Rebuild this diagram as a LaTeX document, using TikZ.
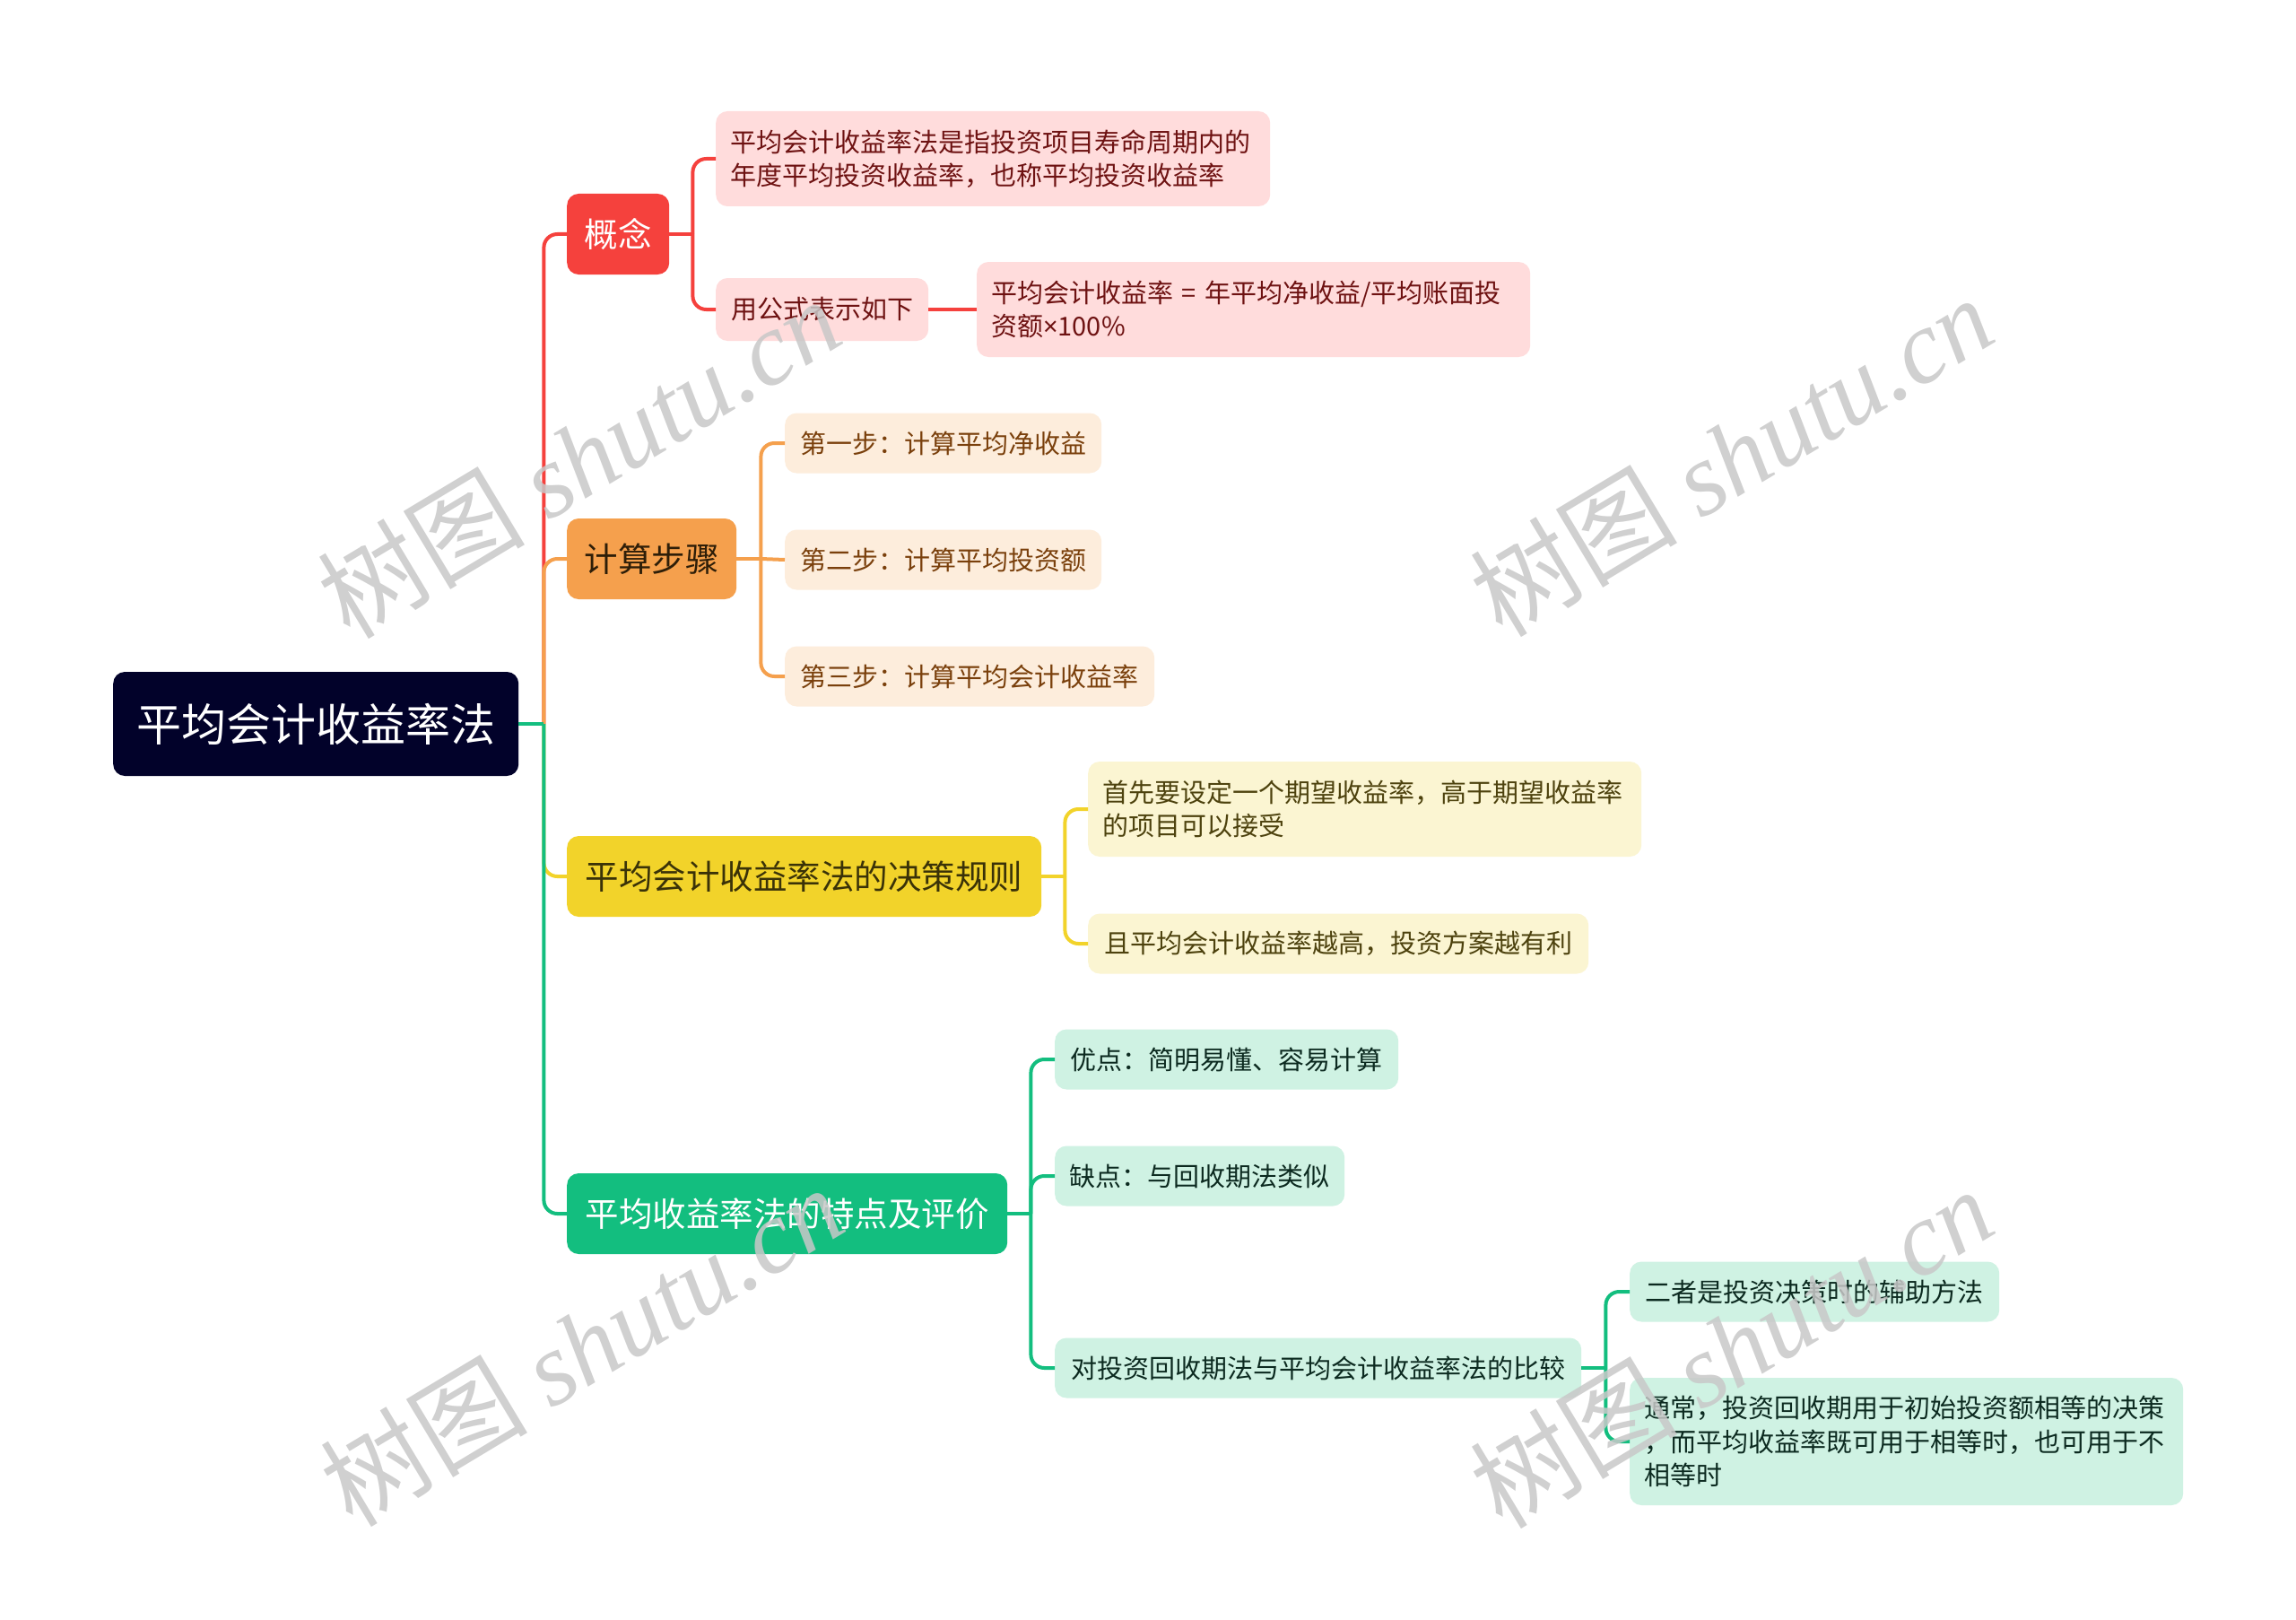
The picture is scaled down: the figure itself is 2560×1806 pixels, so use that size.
\documentclass[tikz,border=0pt]{standalone}
\usepackage{fontspec}
\setmainfont{Noto Sans CJK SC}
\newfontfamily\wmcjk{Noto Sans CJK SC}
\newfontfamily\wmlat{Liberation Serif}
\newfontfamily\narrowlat{Noto Sans}
\usetikzlibrary{calc}

\definecolor{rootc}{HTML}{02022A}
\definecolor{redc}{HTML}{F5413D}
\definecolor{redl}{HTML}{FFDCDC}
\definecolor{redt}{HTML}{6E1212}
\definecolor{orac}{HTML}{F5A04D}
\definecolor{oral}{HTML}{FDEDDC}
\definecolor{orat}{HTML}{7A400C}
\definecolor{orad}{HTML}{2E1E08}
\definecolor{yelc}{HTML}{F2D32A}
\definecolor{yell}{HTML}{FBF5D2}
\definecolor{yelt}{HTML}{4D420E}
\definecolor{yeld}{HTML}{3A3208}
\definecolor{grec}{HTML}{13BE7F}
\definecolor{grel}{HTML}{CFF2E3}
\definecolor{gret}{HTML}{0C2A20}
\definecolor{wmc}{HTML}{C8C8C8}

\begin{document}
\begin{tikzpicture}[x=1pt,y=-1pt,
  nbox/.style={rounded corners=13pt, anchor=west, inner xsep=16pt, inner ysep=0pt, align=left, font=\fontsize{29}{37.5}\selectfont},
  lbox/.style={rounded corners=13pt, anchor=west, inner sep=0pt, align=center, font=\fontsize{37.5}{45}\selectfont, minimum height=90pt},
  conn/.style={line width=4pt, rounded corners=15pt},
  wm/.style={text=wmc, rotate=31, inner sep=0pt, opacity=0.85, font=\fontsize{116}{116}\selectfont}
]
\useasboundingbox[fill=white] (0,0) rectangle (2560,1806);

% root
\node[fill=rootc, text=white, rounded corners=13pt, anchor=west, inner sep=0pt, minimum width=452pt, minimum height=116pt, font=\fontsize{50}{60}\selectfont] (root) at (126,807) {平均会计收益率法};

% level 1
\node[lbox, fill=redc, text=white, minimum width=114pt] (a) at (632,261) {概念};
\node[lbox, fill=orac, text=orad, minimum width=189pt] (b) at (632,623) {计算步骤};
\node[lbox, fill=yelc, text=yeld, minimum width=529pt] (c) at (632,977) {平均会计收益率法的决策规则};
\node[lbox, fill=grec, text=white, minimum width=491pt] (d) at (632,1353) {平均收益率法的特点及评价};

% level 2 red
\node[nbox, fill=redl, text=redt, text width=586pt, minimum height=106pt] (a1) at (798,177) {平均会计收益率法是指投资项目寿命周期内的\\年度平均投资收益率，也称平均投资收益率};
\node[nbox, fill=redl, text=redt, minimum width=237pt, minimum height=70pt] (a2) at (798,345) {用公式表示如下};
\node[nbox, fill=redl, text=redt, text width=585pt, minimum height=106pt] (a3) at (1089,345) {平均会计收益率 = 年平均净收益/平均账面投\\资额{\narrowlat ×}100\%};

% level 2 orange
\node[nbox, fill=oral, text=orat, minimum width=353pt, minimum height=67pt] (b1) at (875,494) {第一步：计算平均净收益};
\node[nbox, fill=oral, text=orat, minimum width=353pt, minimum height=67pt] (b2) at (875,624) {第二步：计算平均投资额};
\node[nbox, fill=oral, text=orat, minimum width=412pt, minimum height=67pt] (b3) at (875,754) {第三步：计算平均会计收益率};

% level 2 yellow
\node[nbox, fill=yell, text=yelt, text width=585pt, minimum height=106pt] (c1) at (1213,902) {首先要设定一个期望收益率，高于期望收益率\\的项目可以接受};
\node[nbox, fill=yell, text=yelt, minimum width=558pt, minimum height=67pt] (c2) at (1213,1052) {且平均会计收益率越高，投资方案越有利};

% level 2 green
\node[nbox, fill=grel, text=gret, minimum width=383pt, minimum height=67pt] (d1) at (1176,1181) {优点：简明易懂、容易计算};
\node[nbox, fill=grel, text=gret, minimum width=323pt, minimum height=67pt] (d2) at (1176,1311) {缺点：与回收期法类似};
\node[nbox, fill=grel, text=gret, minimum width=587pt, minimum height=67pt] (d3) at (1176,1525) {对投资回收期法与平均会计收益率法的比较};
\node[nbox, fill=grel, text=gret, minimum width=412pt, minimum height=67pt] (e1) at (1817,1440) {二者是投资决策时的辅助方法};
\node[nbox, fill=grel, text=gret, text width=585pt, minimum height=142pt] (e2) at (1817,1607) {通常，投资回收期用于初始投资额相等的决策\\，而平均收益率既可用于相等时，也可用于不\\相等时};

% junctions
\coordinate (rj) at ($(root.east)+(28,0)$);
\coordinate (aj) at ($(a.east)+(26,0)$);
\coordinate (bj) at ($(b.east)+(27,0)$);
\coordinate (cj) at ($(c.east)+(26,0)$);
\coordinate (dj) at ($(d.east)+(26,0)$);
\coordinate (ej) at ($(d3.east)+(27,0)$);

% red branch
\draw[conn, redc] (rj) |- (a.west);
\draw[line width=4pt, redc] (a.east) -- (aj);
\draw[conn, redc] (aj) |- (a1.west);
\draw[conn, redc] (aj) |- (a2.west);
\draw[line width=4pt, redc] (a2.east) -- (a3.west);

% orange branch
\draw[conn, orac] (rj) |- (b.west);
\draw[line width=4pt, orac] (b.east) -- (bj);
\draw[conn, orac] (bj) |- (b1.west);
\draw[line width=4pt, orac] (bj) -- (b2.west);
\draw[conn, orac] (bj) |- (b3.west);

% yellow branch
\draw[conn, yelc] (rj) |- (c.west);
\draw[line width=4pt, yelc] (c.east) -- (cj);
\draw[conn, yelc] (cj) |- (c1.west);
\draw[conn, yelc] (cj) |- (c2.west);

% green branch
\draw[conn, grec] (rj) |- (d.west);
\draw[line width=4pt, grec] (d.east) -- (dj);
\draw[conn, grec] (dj) |- (d1.west);
\draw[conn, grec] (dj) |- (d2.west);
\draw[conn, grec] (dj) |- (d3.west);
\draw[line width=4pt, grec] (d3.east) -- (ej);
\draw[conn, grec] (ej) |- (e1.west);
\draw[conn, grec] (ej) |- (e2.west);
\draw[line width=4pt, grec] (root.east) -- (rj);

% watermarks
\node[wm] (w1) at (645,510) {\wmcjk 树图 \wmlat\itshape shutu.cn};
\node[wm] (w2) at (1930,508) {\wmcjk 树图 \wmlat\itshape shutu.cn};
\node[wm] (w3) at (648,1500) {\wmcjk 树图 \wmlat\itshape shutu.cn};
\node[wm] (w4) at (1930,1502) {\wmcjk 树图 \wmlat\itshape shutu.cn};
\end{tikzpicture}
\end{document}
